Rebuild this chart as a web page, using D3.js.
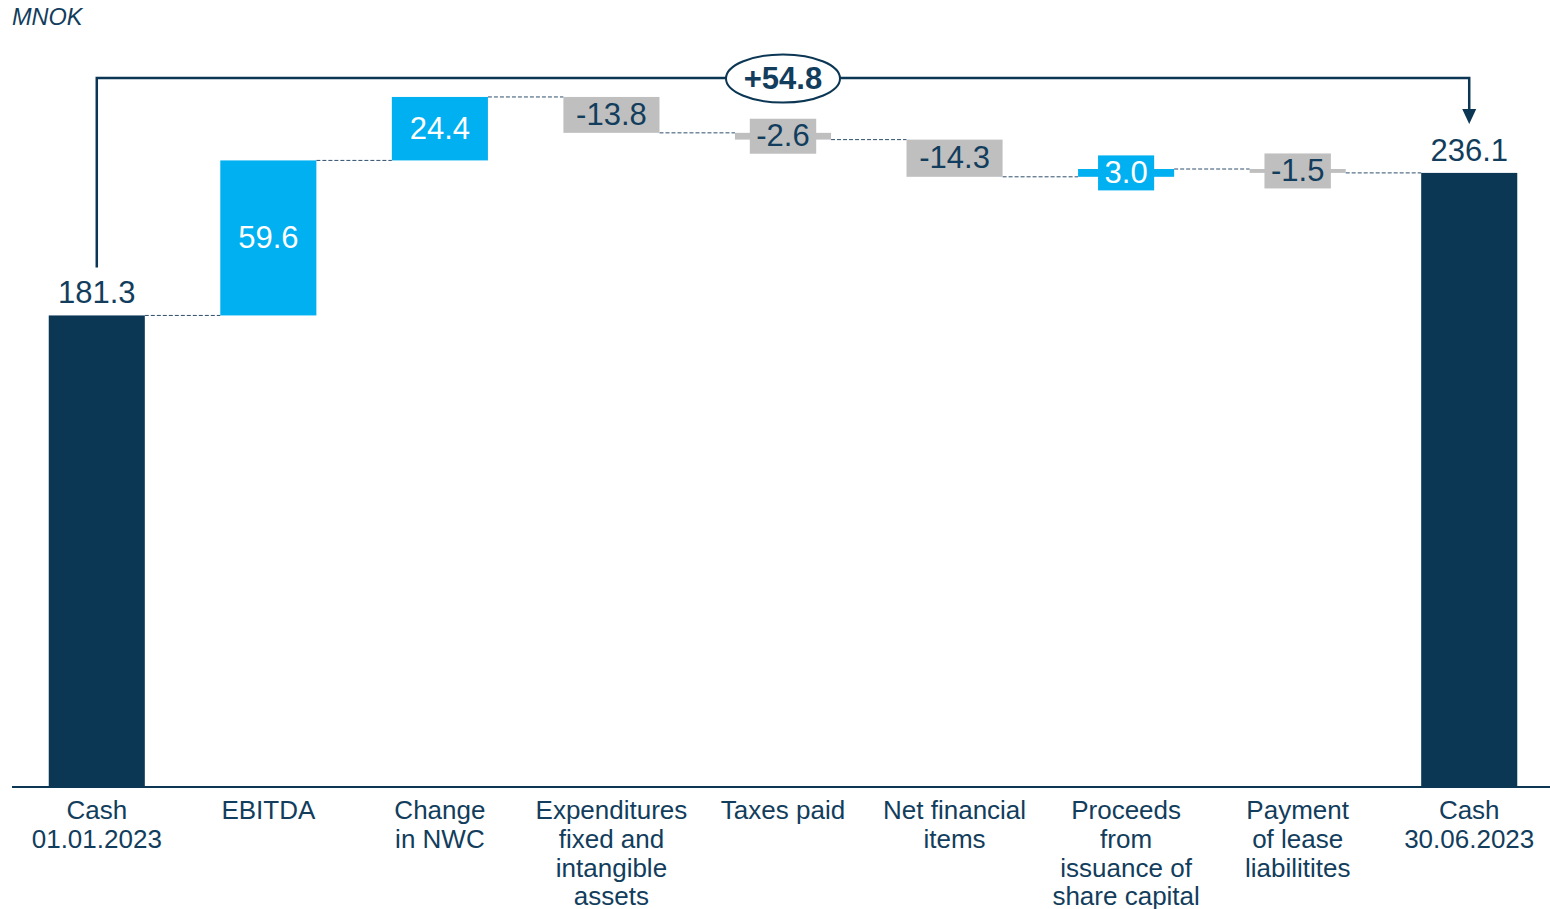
<!DOCTYPE html>
<html>
<head>
<meta charset="utf-8">
<script src="https://cdn.jsdelivr.net/npm/d3@7"></script>
<style>
  html, body { margin: 0; padding: 0; background: #ffffff; }
  svg { display: block; font-family: "Liberation Sans", Arial, sans-serif; }
</style>
</head>
<body>
<svg id="chart" width="1550" height="909"></svg>
<script>
// Cash flow bridge, MNOK
const categories = [
  "Cash\n01.01.2023",
  "EBITDA",
  "Change\nin NWC",
  "Expenditures\nfixed and\nintangible\nassets",
  "Taxes paid",
  "Net financial\nitems",
  "Proceeds\nfrom\nissuance of\nshare capital",
  "Payment\nof lease\nliabilitites",
  "Cash\n30.06.2023"
];
const values = [181.3, 59.6, 24.4, -13.8, -2.6, -14.3, 3.0, -1.5, 236.1];
const kinds = ["total", "delta", "delta", "delta", "delta", "delta", "delta", "delta", "total"];
const unitLabel = "MNOK";

const NAVY = "#0b3654";
const TEXT = "#123d5c";
const BLUE = "#00b0f0";
const GREY = "#bfbfbf";

const svg = d3.select("#chart");

const x = d3.scaleBand()
  .domain(categories)
  .range([11, 1555])
  .paddingInner(0.44)
  .paddingOuter(0.22);

const y = d3.scaleLinear()
  .domain([0, 300])
  .range([787, 787 - 300 * 2.601]);

// running start/end of every step
let running = 0;
const steps = categories.map((c, i) => {
  const v = values[i];
  let start, end;
  if (kinds[i] === "total") { start = 0; end = v; running = v; }
  else { start = running; end = running + v; running = end; }
  return { cat: c, value: v, kind: kinds[i], start, end,
           lo: Math.min(start, end), hi: Math.max(start, end) };
});

const fill = d => d.kind === "total" ? NAVY : (d.value >= 0 ? BLUE : GREY);
const labelColor = d => d.kind === "delta" && d.value >= 0 ? "#ffffff" : TEXT;
const fmt = v => v.toFixed(1);

// unit caption
svg.append("text")
  .attr("x", 12).attr("y", 25)
  .attr("font-size", 23.5).attr("font-style", "italic")
  .attr("fill", TEXT)
  .text(unitLabel);

// dashed connectors between consecutive bars
const conn = svg.append("g")
  .attr("stroke", "#2f4f6d").attr("stroke-width", 1)
  .attr("stroke-dasharray", "4,2");
for (let i = 0; i < steps.length - 1; i++) {
  const lvl = steps[i].end;
  conn.append("line")
    .attr("x1", x(steps[i].cat) + x.bandwidth())
    .attr("x2", x(steps[i + 1].cat))
    .attr("y1", y(lvl)).attr("y2", y(lvl));
}

// bars
svg.append("g").selectAll("rect")
  .data(steps)
  .join("rect")
  .attr("x", d => x(d.cat))
  .attr("width", x.bandwidth())
  .attr("y", d => y(d.hi))
  .attr("height", d => y(d.lo) - y(d.hi))
  .attr("fill", fill);

// value labels
const labels = svg.append("g").attr("font-size", 31);
steps.forEach(d => {
  const cx = x(d.cat) + x.bandwidth() / 2;
  if (d.kind === "total") {
    labels.append("text")
      .attr("x", cx).attr("y", y(d.hi) - 12)
      .attr("text-anchor", "middle").attr("fill", TEXT)
      .text(fmt(d.value));
    return;
  }
  const top = y(d.hi), bot = y(d.lo), mid = (top + bot) / 2;
  const g = labels.append("g");
  const t = g.append("text")
    .attr("x", cx).attr("y", mid).attr("dy", "0.33em")
    .attr("text-anchor", "middle").attr("fill", labelColor(d))
    .text(fmt(d.value));
  if (bot - top < 34) {
    const w = t.node().getComputedTextLength() + 13;
    g.insert("rect", "text")
      .attr("x", cx - w / 2).attr("width", w)
      .attr("y", mid - 17.5).attr("height", 35)
      .attr("fill", fill(d));
  }
});

// category axis
const axis = svg.append("g")
  .attr("transform", `translate(0,${y(0)})`)
  .call(d3.axisBottom(x).tickSize(0).tickSizeOuter(0));
axis.select(".domain").attr("stroke", NAVY).attr("stroke-width", 2)
  .attr("d", "M12,0H1550");
axis.selectAll(".tick text").remove();
axis.selectAll(".tick").each(function (c) {
  const t = d3.select(this).append("text")
    .attr("y", 32).attr("fill", TEXT)
    .attr("font-size", 26).attr("text-anchor", "middle")
    .attr("font-family", "'Liberation Sans', Arial, sans-serif");
  c.split("\n").forEach((line, k) => {
    t.append("tspan").attr("x", 0).attr("dy", k === 0 ? 0 : 28.8).text(line);
  });
});

// overall change bracket
const first = steps[0], last = steps[steps.length - 1];
const xa = x(first.cat) + x.bandwidth() / 2;
const xb = x(last.cat) + x.bandwidth() / 2;
const by = 78;
const ya = y(first.end) - 48;
const yb = y(last.end) - 49;
const bracket = svg.append("g");
bracket.append("path")
  .attr("d", `M${xa},${ya}V${by}H${xb}V${yb - 14}`)
  .attr("fill", "none").attr("stroke", NAVY).attr("stroke-width", 2.5);
bracket.append("path")
  .attr("d", `M${xb - 7},${yb - 15}L${xb + 7},${yb - 15}L${xb},${yb}Z`)
  .attr("fill", NAVY);
const diff = last.end - first.end;
const ex = (x(categories[4]) + x.bandwidth() / 2);
bracket.append("ellipse")
  .attr("cx", ex).attr("cy", by + 0.5).attr("rx", 57).attr("ry", 24)
  .attr("fill", "#ffffff").attr("stroke", NAVY).attr("stroke-width", 2);
bracket.append("text")
  .attr("x", ex).attr("y", by + 0.5).attr("dy", "0.35em")
  .attr("text-anchor", "middle").attr("font-size", 31).attr("font-weight", "bold")
  .attr("fill", TEXT)
  .text((diff >= 0 ? "+" : "-") + Math.abs(diff).toFixed(1));
</script>
</body>
</html>
